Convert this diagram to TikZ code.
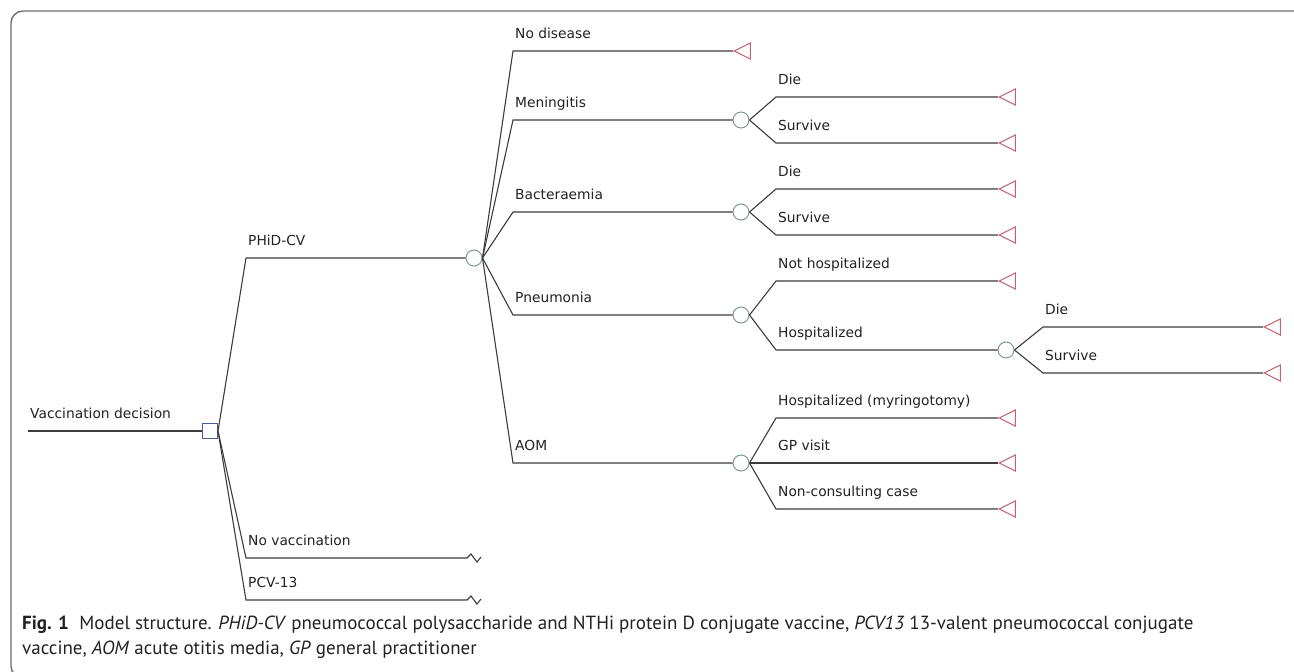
\documentclass[tikz,border=0pt]{standalone}
\usepackage{fontspec}
\setmainfont{DejaVu Sans}
\newfontfamily\capfont{PT Sans}
\usetikzlibrary{shapes.geometric}

\definecolor{treeline}{HTML}{3C3C3C}
\definecolor{framegrey}{HTML}{6E6E6E}
\definecolor{decblue}{HTML}{4A5C9C}
\definecolor{chancegreen}{HTML}{7A9C8C}
\definecolor{termred}{HTML}{C8606E}
\definecolor{labeltext}{HTML}{222222}

\begin{document}
\begin{tikzpicture}[x=1pt,y=-1pt,
  decision/.style={draw=decblue,line width=1pt,rectangle,minimum size=15pt,inner sep=0pt},
  chance/.style={draw=chancegreen,line width=1pt,circle,minimum size=16pt,inner sep=0pt},
  terminal/.style={draw=termred,line width=1pt,isosceles triangle,shape border rotate=180,
    isosceles triangle stretches,minimum width=16pt,minimum height=16pt,inner sep=0pt,anchor=apex},
  branch/.style={draw=treeline,line width=1.1pt},
  lbl/.style={anchor=base west,inner sep=0pt,text=labeltext,font=\fontsize{13.8}{15}\selectfont}]

\useasboundingbox (0,0) rectangle (1294,672);

% Frame
\begin{scope}
\clip (0,0) rectangle (1294,672);
\draw[framegrey,line width=1.4pt,rounded corners=12pt] (11,11) rectangle (1306,678);
\end{scope}

% Decision node
\coordinate (start) at (28,431);
\node[decision] (dec) at (210,431) {};
\draw[branch] (start) -- (dec.west);
\node[lbl] (lvacc) at (30,418) {Vaccination decision};

% Strategies
\coordinate (kphid) at (246,258);
\coordinate (knovac) at (246,558);
\coordinate (kpcv) at (246,600);
\coordinate (endnovac) at (467,558);
\coordinate (endpcv) at (467,600);
\node[chance] (c1) at (474,258) {};
\draw[branch] (dec.east) -- (kphid) -- (c1.west);
\draw[branch] (dec.east) -- (knovac) -- (endnovac) -- ++(4,-4) -- ++(6,8) -- ++(4,-5);
\draw[branch] (dec.east) -- (kpcv) -- (endpcv) -- ++(4,-4) -- ++(6,8) -- ++(4,-5);
\node[lbl] (lphid) at (248,245) {PHiD-CV};
\node[lbl] (lnovac) at (248,545) {No vaccination};
\node[lbl] (lpcv) at (248,587) {PCV-13};

% Outcomes after vaccination
\coordinate (knodis) at (513,51);
\coordinate (kmen) at (513,120);
\coordinate (kbac) at (513,212);
\coordinate (kpneu) at (513,315);
\coordinate (kaom) at (513,463);
\node[terminal] (tnodis) at (733,51) {};
\node[chance] (cmen) at (741,120) {};
\node[chance] (cbac) at (741,212) {};
\node[chance] (cpneu) at (741,315) {};
\node[chance] (caom) at (741,463) {};
\draw[branch] (c1.east) -- (knodis) -- (tnodis.apex);
\draw[branch] (c1.east) -- (kmen) -- (cmen.west);
\draw[branch] (c1.east) -- (kbac) -- (cbac.west);
\draw[branch] (c1.east) -- (kpneu) -- (cpneu.west);
\draw[branch] (c1.east) -- (kaom) -- (caom.west);
\node[lbl] (lnodis) at (515,38) {No disease};
\node[lbl] (lmen) at (515,107) {Meningitis};
\node[lbl] (lbac) at (515,199) {Bacteraemia};
\node[lbl] (lpneu) at (515,302) {Pneumonia};
\node[lbl] (laom) at (515,450) {AOM};

% Meningitis
\coordinate (kmendie) at (776,97);
\coordinate (kmensurv) at (776,143);
\node[terminal] (tmendie) at (998,97) {};
\node[terminal] (tmensurv) at (998,143) {};
\draw[branch] (cmen.east) -- (kmendie) -- (tmendie.apex);
\draw[branch] (cmen.east) -- (kmensurv) -- (tmensurv.apex);
\node[lbl] (lmendie) at (778,84) {Die};
\node[lbl] (lmensurv) at (778,130) {Survive};

% Bacteraemia
\coordinate (kbacdie) at (776,189);
\coordinate (kbacsurv) at (776,235);
\node[terminal] (tbacdie) at (998,189) {};
\node[terminal] (tbacsurv) at (998,235) {};
\draw[branch] (cbac.east) -- (kbacdie) -- (tbacdie.apex);
\draw[branch] (cbac.east) -- (kbacsurv) -- (tbacsurv.apex);
\node[lbl] (lbacdie) at (778,176) {Die};
\node[lbl] (lbacsurv) at (778,222) {Survive};

% Pneumonia
\coordinate (knothosp) at (776,281);
\coordinate (khosp) at (776,350);
\node[terminal] (tnothosp) at (998,281) {};
\node[chance] (chosp) at (1006,350) {};
\draw[branch] (cpneu.east) -- (knothosp) -- (tnothosp.apex);
\draw[branch] (cpneu.east) -- (khosp) -- (chosp.west);
\node[lbl] (lnothosp) at (778,268) {Not hospitalized};
\node[lbl] (lhosp) at (778,337) {Hospitalized};

\coordinate (khospdie) at (1043,327);
\coordinate (khospsurv) at (1043,373);
\node[terminal] (thospdie) at (1263,327) {};
\node[terminal] (thospsurv) at (1263,373) {};
\draw[branch] (chosp.east) -- (khospdie) -- (thospdie.apex);
\draw[branch] (chosp.east) -- (khospsurv) -- (thospsurv.apex);
\node[lbl] (lhospdie) at (1045,314) {Die};
\node[lbl] (lhospsurv) at (1045,360) {Survive};

% AOM
\coordinate (kmyr) at (776,418);
\coordinate (kgp) at (776,463);
\coordinate (knoncons) at (776,509);
\node[terminal] (tmyr) at (998,418) {};
\node[terminal] (tgp) at (998,463) {};
\node[terminal] (tnoncons) at (998,509) {};
\draw[branch] (caom.east) -- (kmyr) -- (tmyr.apex);
\draw[branch] (caom.east) -- (kgp) -- (tgp.apex);
\draw[branch] (caom.east) -- (knoncons) -- (tnoncons.apex);
\node[lbl] (lmyr) at (778,405) {Hospitalized (myringotomy)};
\node[lbl] (lgp) at (778,450) {GP visit};
\node[lbl] (lnoncons) at (778,496) {Non-consulting case};

% Caption
\node[anchor=base west,inner sep=0pt,text=labeltext,font=\capfont\fontsize{19}{24}\selectfont] (cap1) at (22,629)
  {\textbf{Fig. 1}\hspace{0.55em}Model structure. \textit{PHiD-CV} pneumococcal polysaccharide and NTHi protein D conjugate vaccine, \textit{PCV13} 13-valent pneumococcal conjugate};
\node[anchor=base west,inner sep=0pt,text=labeltext,font=\capfont\fontsize{19}{24}\selectfont] (cap2) at (22,654)
  {vaccine, \textit{AOM} acute otitis media, \textit{GP} general practitioner};

\end{tikzpicture}
\end{document}
